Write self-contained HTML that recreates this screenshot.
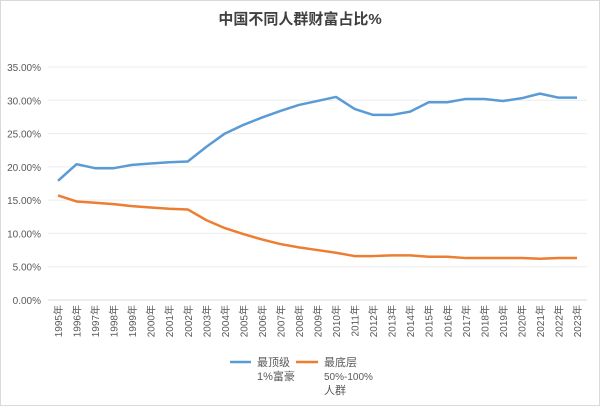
<!DOCTYPE html>
<html><head><meta charset="utf-8"><style>
body{margin:0;background:#fff}
svg text{font-family:"Liberation Sans","Noto Sans CJK SC",sans-serif}
</style></head><body>
<svg id="c" width="600" height="406" viewBox="0 0 600 406" xmlns="http://www.w3.org/2000/svg">
<rect x="0.5" y="0.5" width="599" height="405" fill="#fff" stroke="#d9d9d9"/>
<text x="300" y="24" text-anchor="middle" font-size="15" font-weight="bold" fill="#404040">中国不同人群财富占比%</text>
<g id="grid"></g><g id="yt"></g><g id="xt"></g><g id="lines"></g>
<g>
<line x1="230" y1="362" x2="251" y2="362" stroke="#5b9bd5" stroke-width="2.5"/>
<text x="257" y="366" font-size="11" fill="#595959">最顶级</text>
<text x="257" y="380" font-size="11" fill="#595959">1%富豪</text>
<line x1="296" y1="362" x2="318" y2="362" stroke="#ed7d31" stroke-width="2.5"/>
<text x="324" y="366" font-size="11" fill="#595959">最底层</text>
<text x="324" y="380" font-size="10" fill="#595959">50%-100%</text>
<text x="324" y="394" font-size="11" fill="#595959">人群</text>
</g>
</svg>
<script>
const years=[];for(let y=1995;y<=2023;y++)years.push(y+"年");
const top1=[17.9,20.4,19.8,19.8,20.3,20.5,20.7,20.8,23.0,25.0,26.3,27.4,28.4,29.3,29.9,30.5,28.7,27.8,27.8,28.3,29.7,29.7,30.2,30.2,29.9,30.3,31.0,30.4,30.4];
const bottom50=[15.7,14.8,14.6,14.4,14.1,13.9,13.7,13.6,12.0,10.8,9.9,9.1,8.4,7.9,7.5,7.1,6.6,6.6,6.7,6.7,6.5,6.5,6.3,6.3,6.3,6.3,6.2,6.3,6.3];
const yTicks=[0,5,10,15,20,25,30,35];
const NS="http://www.w3.org/2000/svg";
const X0=58,X1=577,Y0=300,Y35=67,GL=48,GR=587;
const xs=i=>X0+(X1-X0)*i/(years.length-1);
const ys=v=>Y0-(Y0-Y35)*v/35;
function mk(t,a,p){const e=document.createElementNS(NS,t);for(const k in a)e.setAttribute(k,a[k]);document.getElementById(p).appendChild(e);return e;}
yTicks.forEach(v=>{
 const l=mk('line',{x1:GL,x2:GR,y1:ys(v),y2:ys(v),stroke:v===0?'#d9d9d9':'#ececec','stroke-width':1},'grid');
 
 
 const t=mk('text',{x:41,y:ys(v)+4,'text-anchor':'end','font-size':10,fill:'#595959'},'yt');
 t.textContent=v.toFixed(2)+'%';
 
 
});
years.forEach((y,i)=>{
 const x=xs(i);
 const t=mk('text',{x:0,y:0,'text-anchor':'end','font-size':10,fill:'#595959',transform:`translate(${x+4},305) rotate(-90)`},'xt');
 t.textContent=y;
 
 
});
function line(d,c,n){
 const p=mk('polyline',{points:d.map((v,i)=>xs(i)+','+ys(v)).join(' '),fill:'none',stroke:c,'stroke-width':2.5,'stroke-linejoin':'round'},'lines');
 
 
}
line(top1,'#5b9bd5','line-top1-percent');
line(bottom50,'#ed7d31','line-bottom-50-percent');
</script>
</body></html>
